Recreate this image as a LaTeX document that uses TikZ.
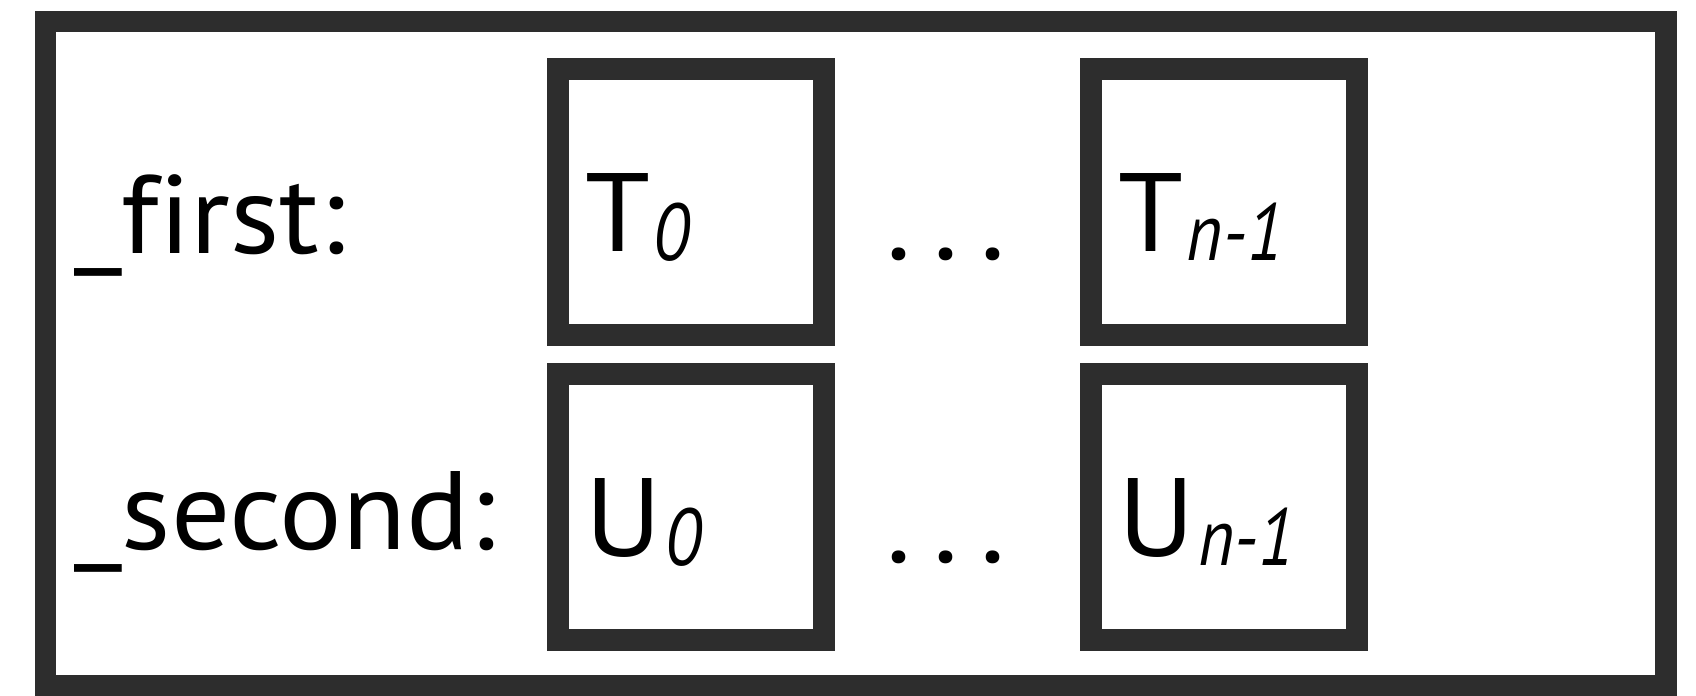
\documentclass[tikz,border=0pt]{standalone}
\usepackage{fontspec}
\setmainfont{PT Sans}[Ligatures=NoCommon, FakeStretch=1.05]
\newfontfamily\cellsubfont{PT Sans}[FakeStretch=0.86]
\definecolor{framegray}{RGB}{45,45,45}
\newcommand\cellsub[1]{\kern0.03em\raisebox{-0.09cm}{\fontsize{23}{27}\cellsubfont\itshape #1}}
\tikzset{
  cell/.style={draw=framegray, line width=0.216cm, minimum width=2.66cm, minimum height=2.66cm, inner sep=0pt, outer sep=0pt},
  celltext/.style={anchor=base west, inner sep=0pt},
  fieldname/.style={anchor=base west, inner sep=0pt},
  gap/.style={anchor=base, inner sep=0pt}
}
\begin{document}
\begin{tikzpicture}[x=1cm,y=1cm,font=\fontsize{31.7}{38}\selectfont]
\useasboundingbox (0,0) rectangle (16.96,6.95);
\draw[draw=framegray, line width=0.216cm] (0.454,0.097) rectangle (16.657,6.734);
% field names
\node[fieldname] (first) at (0.735,4.41) {\_first:};
\node[fieldname] (second) at (0.735,1.46) {\_second:};
% element cells
\node[cell] (t0) at (6.91,4.93) {};
\node[cell] (tn) at (12.24,4.93) {};
\node[cell] (u0) at (6.91,1.88) {};
\node[cell] (un) at (12.24,1.88) {};
\node[celltext] (t0txt) at ([xshift=0.27cm,yshift=-0.49cm]t0.west) {T\cellsub{0}};
\node[celltext] (tntxt) at ([xshift=0.27cm,yshift=-0.49cm]tn.west) {T\cellsub{n-1}};
\node[celltext] (u0txt) at ([xshift=0.27cm,yshift=-0.49cm]u0.west) {U\cellsub{0}};
\node[celltext] (untxt) at ([xshift=0.27cm,yshift=-0.49cm]un.west) {U\cellsub{n-1}};
% dots between cells
\node[gap] (tdots) at (9.46,4.35) {.\kern0.2em.\kern0.2em.};
\node[gap] (udots) at (9.46,1.33) {.\kern0.2em.\kern0.2em.};
\end{tikzpicture}
\end{document}
